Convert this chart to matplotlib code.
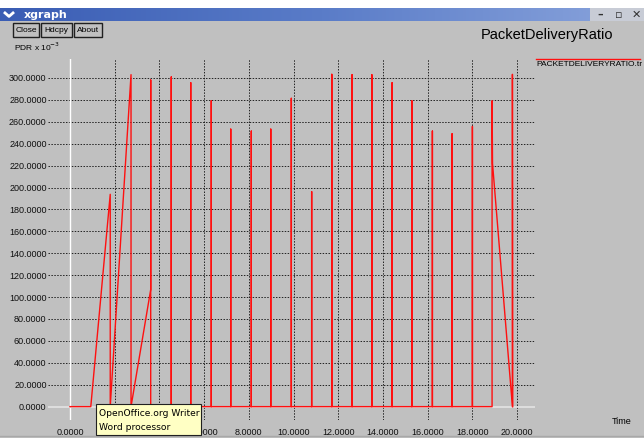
# xgraph window "PacketDeliveryRatio", redrawn with matplotlib.
import matplotlib
matplotlib.use("Agg")
import matplotlib.pyplot as plt
import numpy as np
from matplotlib.patches import Rectangle
from matplotlib.lines import Line2D
from matplotlib.colors import LinearSegmentedColormap

plt.rcParams["font.family"] = ["Liberation Sans", "DejaVu Sans"]

# ---- data: polyline vertices (time s, PDR x 1e-3) ----
time = [0.00, 0.93, 1.80, 1.80, 2.73, 2.73, 3.61, 3.61, 3.61,
        4.53, 4.53, 4.53, 5.40, 5.40, 5.40, 6.32, 6.32, 6.32,
        7.19, 7.19, 7.19, 8.11, 8.11, 8.11, 8.98, 8.98, 8.98,
        9.90, 9.90, 9.90, 10.81, 10.81, 10.81, 11.71, 11.71, 11.71,
        12.62, 12.62, 12.62, 13.50, 13.50, 13.50, 14.41, 14.41, 14.41,
        15.29, 15.29, 15.29, 16.21, 16.21, 16.21, 17.09, 17.09, 17.09,
        18.00, 18.00, 18.00, 18.88, 18.88, 18.90, 19.79, 19.79, 19.80]
pdr = [0.0, 0.0, 193.8, 0.0, 303.0, 0.0, 106.8, 298.1, 0.0,
       0.0, 300.9, 0.0, 0.0, 295.7, 0.0, 0.0, 279.2, 0.0,
       0.0, 253.3, 0.0, 0.0, 251.5, 0.0, 0.0, 253.3, 0.0,
       0.0, 281.4, 0.0, 0.0, 196.2, 0.0, 0.0, 303.3, 0.0,
       0.0, 303.0, 0.0, 0.0, 303.0, 0.0, 0.0, 295.7, 0.0,
       0.0, 279.2, 0.0, 0.0, 251.5, 0.0, 0.0, 249.0, 0.0,
       0.0, 255.7, 0.0, 0.0, 279.2, 221.9, 0.0, 303.3, 0.0]

xticks = np.arange(0, 21, 2)
yticks = np.arange(0, 301, 20)

BG = "#c0c0c0"
W, H = 644, 438

def fx(px):
    return px / W

def fy(py):
    return 1 - py / H

fig = plt.figure(figsize=(6.44, 4.38), dpi=100)
fig.patch.set_facecolor(BG)

# white strip above the window + title bar
fig.patches.append(Rectangle((0, fy(8)), 1, 8 / H, transform=fig.transFigure,
                             facecolor="white", edgecolor="none"))
tb = fig.add_axes([0, fy(21), 1, 13 / H])
grad = np.linspace(0, 1, 256)[None, :]
cm = LinearSegmentedColormap.from_list("tb", ["#3a5db4", "#5a7cc8", "#8aa4dc"])
tb.imshow(grad, aspect="auto", cmap=cm, extent=[0, 1, 0, 1])
tb.add_patch(Rectangle((fx(590), 0), 1 - fx(590), 1, facecolor="#c8ccd6", edgecolor="none"))
tb.set_xlim(0, 1); tb.set_ylim(0, 1); tb.axis("off")
tb.plot([5 / W, 9 / W, 13 / W], [0.62, 0.35, 0.62], color="white", lw=2)
tb.text(24 / W, 0.5, "xgraph", color="white", fontsize=8, fontweight="bold",
        va="center", ha="left", family="DejaVu Sans")
for px, s in [(600, "\u2013"), (619, "\u25ab"), (636, "\u2715")]:
    tb.text(px / W, 0.45, s, color="#303030", fontsize=8, fontweight="bold",
            ha="center", va="center", family="DejaVu Sans")

# buttons
for x0, x1, s in [(13, 39, "Close"), (41, 72, "Hdcpy"), (74, 102, "About")]:
    fig.patches.append(Rectangle((fx(x0), fy(37)), (x1 - x0) / W, 14 / H,
                                 transform=fig.transFigure, facecolor=BG,
                                 edgecolor="#202020", lw=1))
    fig.text(fx((x0 + x1) / 2), fy(30), s, fontsize=6, ha="center", va="center")

fig.text(fx(14), fy(47), "PDR x 10$^{-3}$", fontsize=6, ha="left", va="center")
fig.text(fx(481), fy(35), "PacketDeliveryRatio", fontsize=10.5, ha="left", va="center")

# plot area
x_lo, x_hi = -0.984, 20.80
y_lo, y_hi = -12.2, 317.3
ax = fig.add_axes([fx(48), fy(420), (535 - 48) / W, (420 - 59) / H])
ax.set_facecolor(BG)
ax.set_xlim(x_lo, x_hi)
ax.set_ylim(y_lo, y_hi)
for s in ax.spines.values():
    s.set_visible(False)

for v in xticks[1:]:
    ax.axvline(v, color="#222222", lw=0.7, ls=(0, (1.5, 1.5)), zorder=1)
for v in yticks[1:]:
    ax.axhline(v, color="#222222", lw=0.7, ls=(0, (1.5, 1.5)), zorder=1)
ax.axvline(0, color="white", lw=1.0, zorder=1)
ax.axhline(0, color="#e4e4e4", lw=1.2, zorder=1)

ax.plot(time, pdr, color="#ff1010", lw=1.0, zorder=3)

ax.set_xticks(xticks)
ax.set_xticklabels([f"{v:.4f}" for v in xticks])
ax.set_yticks(yticks)
ax.set_yticklabels([f"{v:.4f}" for v in yticks])
ax.tick_params(length=0, labelsize=6.5, colors="#101010")
ax.tick_params(axis="y", pad=1)
ax.tick_params(axis="x", pad=6)

# legend entry
fig.add_artist(Line2D([fx(536), fx(640)], [fy(59), fy(59)], color="#ff1010", lw=1))
fig.text(fx(536), fy(64), "PACKETDELIVERYRATIO.tr", fontsize=6, ha="left", va="center")
fig.text(fx(612), fy(422), "Time", fontsize=6.5, ha="left", va="center")

# tooltip that was on screen
fig.patches.append(Rectangle((fx(96), fy(435)), 105 / W, 31 / H, transform=fig.transFigure,
                             facecolor="#ffffc4", edgecolor="#202020", lw=0.8, zorder=10))
fig.text(fx(99), fy(413), "OpenOffice.org Writer", fontsize=6.6, ha="left", va="center",
         family="DejaVu Sans", zorder=11)
fig.text(fx(99), fy(427), "Word processor", fontsize=6.6, ha="left", va="center",
         family="DejaVu Sans", zorder=11)

fig.add_artist(Line2D([0, 1], [fy(436), fy(436)], color="#a8a8a8", lw=1))

fig.savefig("out.png", facecolor=BG)
